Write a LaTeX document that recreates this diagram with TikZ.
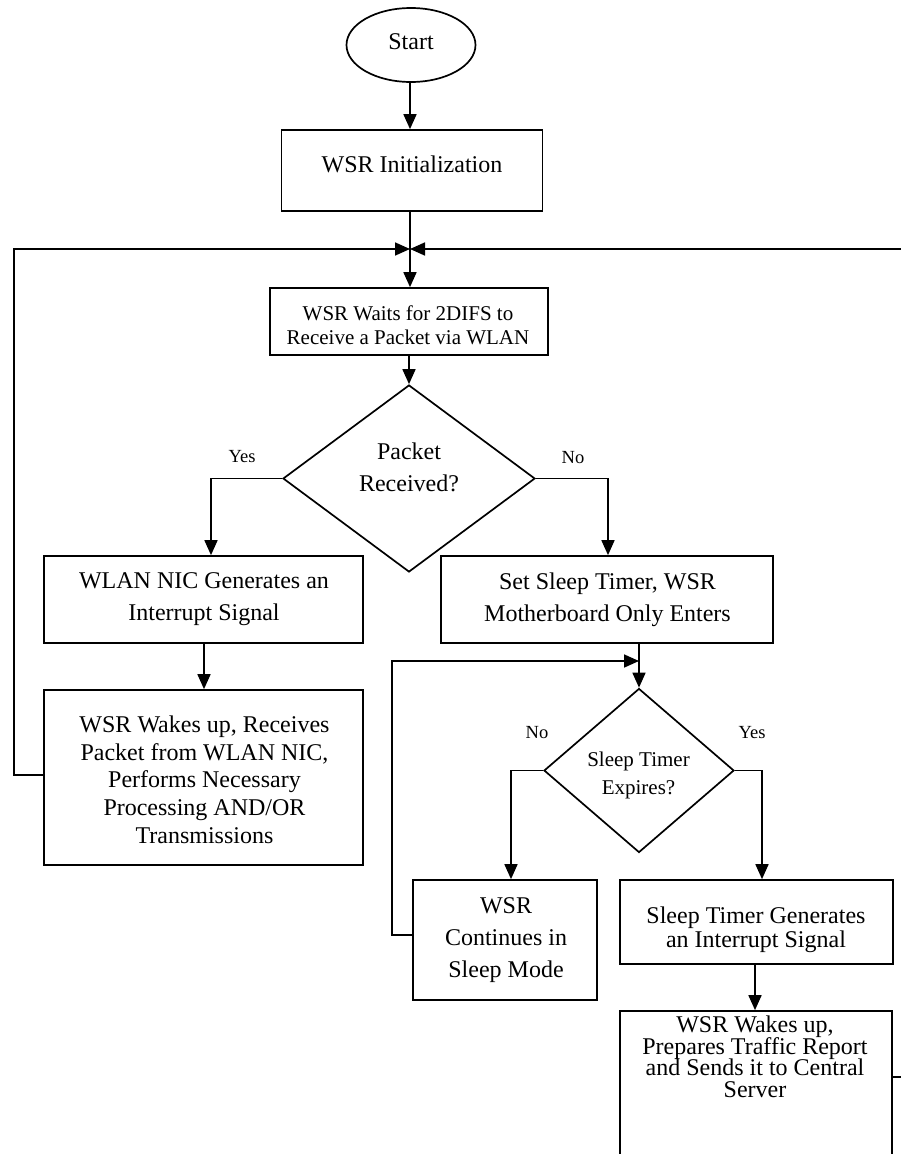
\documentclass[tikz,border=0pt]{standalone}
\usepackage{fontspec}
\setmainfont{Liberation Serif}
\usetikzlibrary{shapes.geometric,arrows.meta}
\newcommand\myfs[2]{\fontsize{#1}{#2}\selectfont\lineskiplimit=-50pt\lineskip=0pt\relax}
\begin{document}
\begin{tikzpicture}[x=1pt,y=-1pt,
  line width=1.7pt,
  box/.style={draw, rectangle, inner sep=0pt},
  dia/.style={draw, diamond, inner sep=0pt},
  txt/.style={inner sep=0pt, align=center, anchor=north},
  stxt/.style={inner sep=0pt, anchor=base},
  arr/.style={-{Triangle[length=15pt,width=13pt]}},
  lbl/.style={inner sep=0pt, anchor=base, font=\myfs{18.5}{22}},
]
\useasboundingbox (0,0) rectangle (901,1154);

% shapes
\node[draw, ellipse, inner sep=0pt, minimum width=129pt, minimum height=74pt] (start) at (411,45) {};
\node[box, minimum width=261pt, minimum height=81pt] (init) at (412,170.5) {};
\node[box, minimum width=278pt, minimum height=67pt] (waits) at (409,321.5) {};
\node[dia, minimum width=252pt, minimum height=187pt] (d1) at (409,478.5) {};
\node[box, minimum width=319pt, minimum height=87pt] (wlan) at (203.5,599.5) {};
\node[box, minimum width=332pt, minimum height=87pt] (set) at (607,599.5) {};
\node[box, minimum width=319pt, minimum height=175pt] (wakes) at (203.5,777.5) {};
\node[dia, minimum width=190pt, minimum height=164pt] (d2) at (639,770.5) {};
\node[box, minimum width=184pt, minimum height=120pt] (cont) at (505,940) {};
\node[box, minimum width=273pt, minimum height=84pt] (gen) at (756.5,922) {};
\node[box, minimum width=272pt, minimum height=160pt] (last) at (756,1091) {};

% texts
\node[stxt, font=\myfs{24}{28}] (start-t) at (411,49) {Start};
\node[stxt, font=\myfs{24}{28}] (init-t) at (412,172) {WSR Initialization};
\node[txt, font=\myfs{21}{24}] (waits-t) at (408,305) {WSR Waits for 2DIFS to\\Receive a Packet via WLAN};
\node[txt, font=\myfs{24}{32}] (d1-t) at (409,441.8) {Packet\\Received?};
\node[txt, font=\myfs{24}{32}] (wlan-t) at (204,571.8) {WLAN NIC Generates an\\Interrupt Signal};
\node[txt, font=\myfs{24}{32}] (set-t) at (607.5,571.8) {Set Sleep Timer, WSR\\Motherboard Only Enters};
\node[txt, font=\myfs{24}{27.7}] (wakes-t) at (204.5,714.8) {WSR Wakes up, Receives\\Packet from WLAN NIC,\\Performs Necessary\\Processing AND/OR\\Transmissions};
\node[txt, font=\myfs{21}{28}] (d2-t) at (638.5,750.9) {Sleep Timer\\Expires?};
\node[txt, font=\myfs{24}{32}] (cont-t) at (506,896.8) {WSR\\Continues in\\Sleep Mode};
\node[txt, font=\myfs{24}{24}] (gen-t) at (756,905.8) {Sleep Timer Generates\\an Interrupt Signal};
\node[txt, font=\myfs{24}{21.7}] (last-t) at (755,1014.8) {WSR Wakes up,\\Prepares Traffic Report\\and Sends it to Central\\Server};

% labels
\node[lbl] (yes1) at (242,462) {Yes};
\node[lbl] (no1) at (573,463) {No};
\node[lbl] (no2) at (537,738) {No};
\node[lbl] (yes2) at (752,738) {Yes};

% helper coordinates
\coordinate (J) at (410,249);
\coordinate (lc) at (14,775);
\coordinate (rc) at (920,1077);
\coordinate (K) at (639,661);
\coordinate (kc) at (392,935);
\coordinate (ya) at (211,478.5);
\coordinate (na) at (608,478.5);
\coordinate (yb) at (762,770.5);
\coordinate (nb) at (511,770.5);

% connectors
\draw[arr] (J |- start.south) -- (J |- init.north);
\draw[arr] (J |- init.south) -- (J |- waits.north);
\draw[arr] (d1 |- waits.south) -- (d1.north);
\draw[arr] (d1.west) -- (ya) -- (ya |- wlan.north);
\draw[arr] (d1.east) -- (na) -- (na |- set.north);
\draw[arr] (wlan-t |- wlan.south) -- (wlan-t |- wakes.north);
\draw[arr] (wakes.west |- lc) -- (lc) |- (J);
\draw[arr] (last.east |- rc) -- (rc) |- (J);
\draw[arr] (d2 |- set.south) -- (d2.north);
\draw[arr] (cont.west |- kc) -- (kc) |- (K);
\draw[arr] (d2.west) -- (nb) -- (nb |- cont.north);
\draw[arr] (d2.east) -- (yb) -- (yb |- gen.north);
\draw[arr] (last-t |- gen.south) -- (last-t |- last.north);
\end{tikzpicture}
\end{document}
